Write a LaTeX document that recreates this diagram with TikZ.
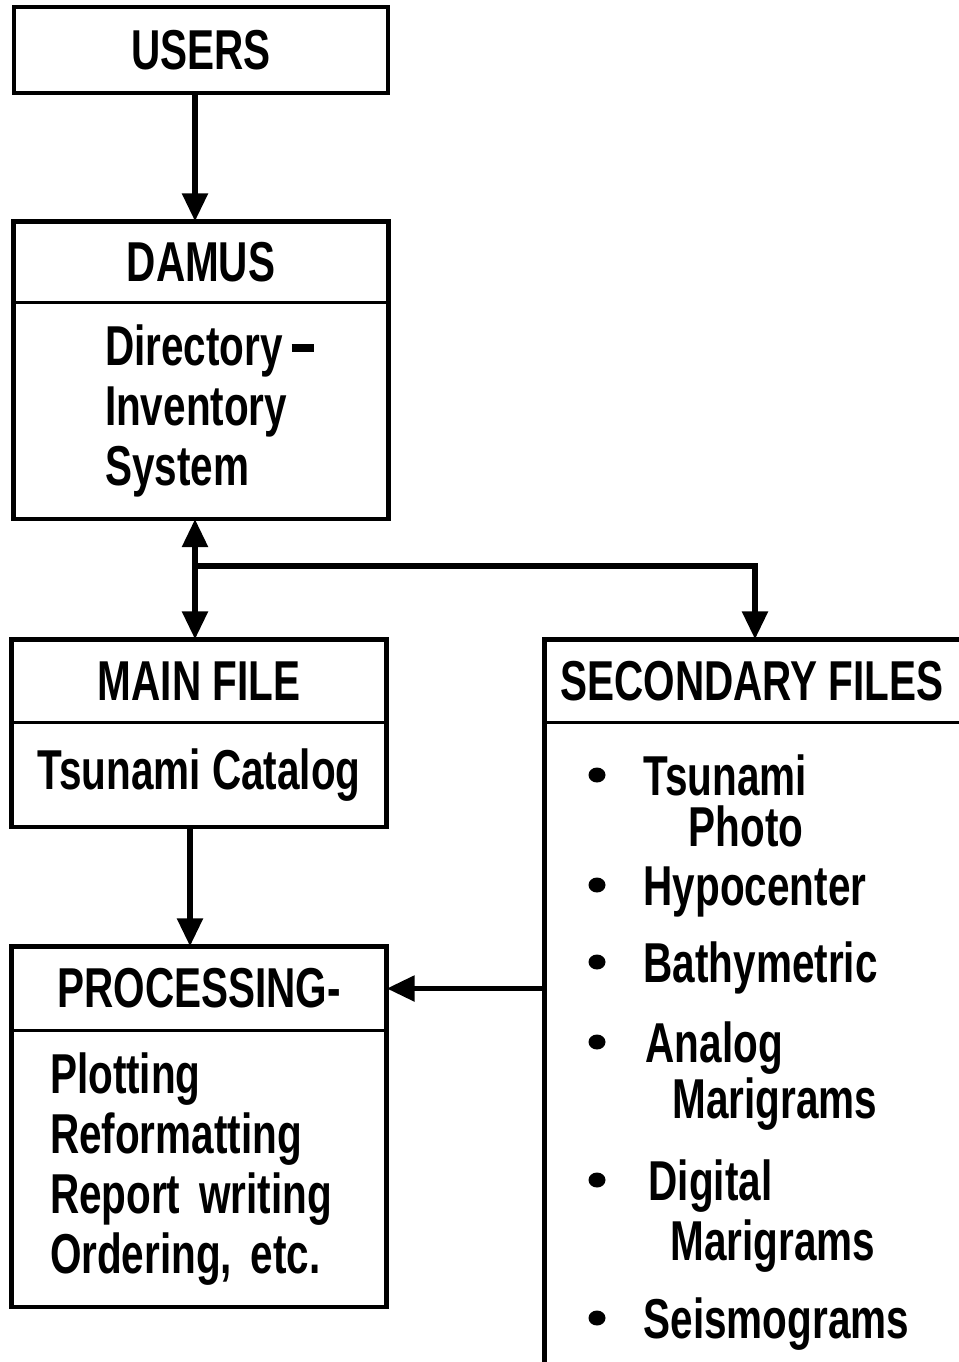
\documentclass[tikz,border=0pt]{standalone}
\usepackage{fontspec}
\setmainfont{Liberation Sans}[FakeStretch=0.72]
\usetikzlibrary{arrows.meta,positioning}

\tikzset{
  txt/.style={font=\fontsize{16}{17.07}\selectfont\bfseries, inner sep=0pt},
  head/.style={txt, minimum width=3.74cm},
  body/.style={txt, minimum width=3.74cm, align=left},
  frame/.style={line width=1.3pt},
  divider/.style={line width=0.8pt},
  arrow/.style={line width=1.6pt, -{Triangle[length=0.28cm,width=0.25cm]}},
  twoway/.style={line width=1.6pt, {Triangle[length=0.28cm,width=0.25cm]}-{Triangle[length=0.28cm,width=0.25cm]}}
}

\begin{document}
\begin{tikzpicture}
    \useasboundingbox (0,0) rectangle (9.58,-13.62);

    % 左列方框
    \node[head, draw, line width=1.3pt, minimum height=0.86cm] (users) at (2.01,-0.50) {USERS};

    \node[head, minimum height=0.80cm] (damushead) at (2.01,-2.62) {DAMUS};
    \node[body, minimum height=2.15cm, below=0pt of damushead, text width=1.92cm] (damusbody) {\mbox{Directory\kern2.5pt\rule[3.9pt]{6.3pt}{2.3pt}}\\Inventory\\System};

    \node[head, minimum height=0.82cm] (mainhead) at (1.99,-6.81) {MAIN FILE};
    \node[head, minimum height=1.03cm, below=0pt of mainhead] (mainbody) {Tsunami Catalog};

    \node[head, minimum height=0.83cm] (prochead) at (1.99,-9.885) {PROCESSING-};
    \node[body, minimum height=2.75cm, below=0pt of prochead, text width=2.98cm] (procbody) {Plotting\\Reformatting\\Report writing\\Ordering, etc.};

    % 外框与分隔线
    \foreach \n in {damus, main, proc} {
        \draw[frame] (\n head.north west) rectangle (\n body.south east);
        \draw[divider] (\n head.south west) -- (\n head.south east);
    }

    % 右列：开口的方框
    \node[head, minimum width=4.14cm, minimum height=0.82cm] (sechead) at (7.52,-6.81) {SECONDARY FILES};
    \node[txt, minimum width=4.14cm, minimum height=6.40cm, below=0pt of sechead] (secbody) {};
    \draw[frame] ([xshift=1cm]sechead.north east) -- (sechead.north west) -- ([yshift=-1cm]secbody.south west);
    \draw[divider] (sechead.south west) -- ([xshift=1cm]sechead.south east);

    % 列表项
    \foreach \x/\y/\t [count=\i] in {
        6.43/7.75/Tsunami,
        6.43/8.85/Hypocenter,
        6.43/9.62/Bathymetric,
        6.45/10.42/Analog,
        6.48/11.80/Digital,
        6.43/13.18/Seismograms%
    } {
        \fill (5.97,-\y) ellipse (0.085 and 0.075);
        \node[txt, anchor=base west] (item\i) at (\x,-\y-0.20) {\t};
    }
    \foreach \x/\y/\t [count=\i] in {
        6.88/8.26/Photo,
        6.72/10.98/Marigrams,
        6.70/12.40/Marigrams%
    } {
        \node[txt, anchor=base west] (cont\i) at (\x,-\y-0.20) {\t};
    }

    % 箭头
    \coordinate (junction) at (1.95,-5.66);
    \draw[arrow] ([xshift=-0.06cm]users.south) -- ([xshift=-0.06cm]damushead.north);
    \draw[twoway] ([xshift=-0.06cm]damusbody.south) -- ([xshift=-0.04cm]mainhead.north);
    \draw[arrow] (junction) -| ([xshift=0.03cm]sechead.north);
    \draw[arrow] ([xshift=-0.09cm]mainbody.south) -- ([xshift=-0.09cm]prochead.north);
    \draw[arrow] (secbody.west |- prochead.east) -- (prochead.east);

\end{tikzpicture}
\end{document}
